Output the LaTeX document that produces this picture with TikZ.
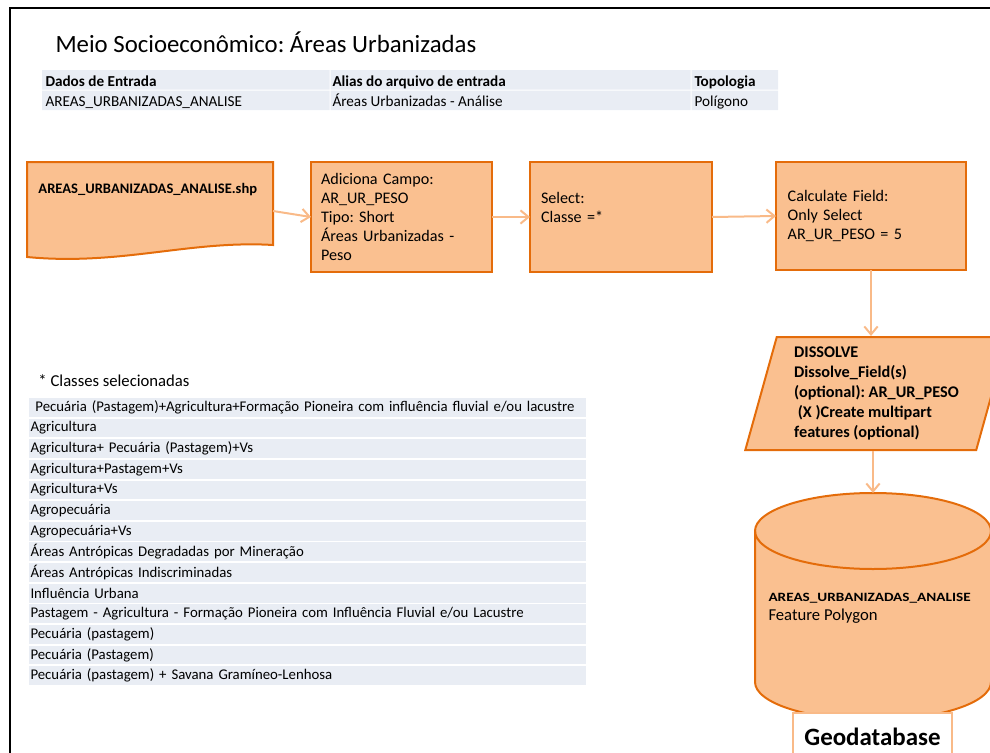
\documentclass[tikz,border=0pt]{standalone}
\usepackage{fontspec}
\usepackage{graphicx}
\setmainfont{Carlito}
\frenchspacing
\usetikzlibrary{arrows.meta,shapes.geometric,calc}

\definecolor{procfill}{HTML}{FAC090}
\definecolor{procline}{HTML}{E46C0A}
\definecolor{flowline}{HTML}{F9BA88}
\definecolor{tablefill}{HTML}{E9EDF4}

\tikzset{every picture/.style={line width=0.75pt}}
\tikzset{
  procbox/.style={draw=procline, fill=procfill, line width=1.5pt, align=left, inner xsep=7.5pt, outer sep=0pt, font=\fontsize{12.1}{14.4}\selectfont},
  flow/.style={draw=flowline, line width=1.5pt, -{Straight Barb[length=6pt,width=10pt]}},
  tabcell/.style={fill=tablefill},
  tabtext/.style={anchor=base west, inner sep=0pt, font=\fontsize{11.4}{13}\selectfont},
  listrow/.style={fill=tablefill, anchor=west, minimum height=14.1pt, minimum width=417.75pt, text width=414.75pt, inner xsep=1.5pt, inner ysep=0pt, align=left, font=\fontsize{11.1}{12}\selectfont},
}

\begin{document}
\begin{tikzpicture}[x=0.75pt,y=0.75pt,yscale=-1,xscale=1]
    \useasboundingbox (0,0) rectangle (990,753);
    \clip (0,0) rectangle (990,753);

    %Shape: Frame
    \draw [line width=1.5pt] (10,770) -- (10,8) -- (1000,8) ;

    % Text Node
    \draw (55,52) node (title) [anchor=base west, inner sep=0pt, font=\fontsize{18.6}{22}\selectfont] {Meio Socioeconômico: Áreas Urbanizadas};

    %Shape: Table cells
    \fill [tabcell] (42,70) rectangle (329.5,89.5) (330.5,70) rectangle (690.5,89.5) (691.5,70) rectangle (778,89.5) ;
    \fill [tabcell] (42,90.5) rectangle (329.5,110) (330.5,90.5) rectangle (690.5,110) (691.5,90.5) rectangle (778,110) ;
    % Text Node
    \draw (45,86) node (hdin) [tabtext] {\bfseries Dados de Entrada};
    \draw (332,86) node (hdalias) [tabtext] {\bfseries Alias do arquivo de entrada};
    \draw (694,86) node (hdtopo) [tabtext] {\bfseries Topologia};
    \draw (45,106) node (vin) [tabtext] {AREAS\_URBANIZADAS\_ANALISE};
    \draw (332,106) node (valias) [tabtext] {Áreas Urbanizadas - Análise};
    \draw (694,106) node (vtopo) [tabtext] {Polígono};

    %Shape: Document
    \draw [draw=procline, fill=procfill, line width=1.5pt] (27,162) -- (273,162) -- (273,245) .. controls (190,240) and (120,266) .. (27,257) -- cycle ;
    \node (doc) at (150,211) [minimum width=184.5pt, minimum height=72pt, outer sep=0pt] {};
    % Text Node
    \draw (38,193) node (docname) [anchor=base west, inner sep=0pt, font=\bfseries\fontsize{10.9}{12}\selectfont] {AREAS\_URBANIZADAS\_ANALISE.shp};

    %Shape: Rectangle
    \node (add) at (401.5,217) [procbox, minimum width=135.75pt, minimum height=82.5pt, text width=120.75pt] {Adiciona Campo:\\AR\_UR\_PESO\\Tipo: Short\\Áreas Urbanizadas -\\Peso};
    %Shape: Rectangle
    \node (sel) at (621,217) [procbox, minimum width=136.5pt, minimum height=82.5pt, text width=120pt, inner xsep=8.25pt] {Select:\\Classe =*\\~};
    %Shape: Rectangle
    \node (calc) at (871,216) [procbox, minimum width=142.5pt, minimum height=81pt, text width=125pt, inner xsep=8.75pt] {Calculate Field:\\Only Select\\AR\_UR\_PESO = 5};

    %Shape: Parallelogram
    \node (dis) at (876.5,393.5) [trapezium, trapezium left angle=75, trapezium right angle=105, trapezium stretches=true, minimum width=197.25pt, minimum height=84.75pt, draw=procline, fill=procfill, line width=1.5pt, align=left, font=\bfseries\fontsize{12.2}{15}\selectfont] {DISSOLVE\\Dissolve\_Field(s)\\(optional): AR\_UR\_PESO\\\ (X )Create multipart\\features (optional)};

    %Shape: Can
    \draw [draw=procline, fill=procfill, line width=1.5pt] (755,531) -- (755,682) arc[start angle=180, end angle=0, x radius=118, y radius=38] -- (991,531) arc[start angle=0, end angle=-180, x radius=118, y radius=38] -- cycle ;
    \draw [draw=procline, line width=1.5pt] (755,531) arc[start angle=180, end angle=0, x radius=118, y radius=38] ;
    \node (db) at (873,606.5) [minimum width=177pt, minimum height=170.25pt, outer sep=0pt] {};
    % Text Node
    \draw (768,601.5) node (dbname) [anchor=base west, inner sep=0pt, font=\bfseries\fontsize{9.5}{11}\selectfont] {\scalebox{1.2}[1]{AREAS\_URBANIZADAS\_ANALISE}};
    \draw (768,620.5) node (dbtype) [anchor=base west, inner sep=0pt, font=\fontsize{12.5}{14}\selectfont] {Feature Polygon};

    %Shape: Rectangle
    \node (gdb) at (872.5,736.5) [draw=flowline, fill=white, line width=1.1pt, minimum width=119.25pt, minimum height=35.25pt, font=\bfseries\fontsize{18.7}{21}\selectfont] {Geodatabase};

    % Connectors
    \draw [flow] (doc.east) -- (add.west) ;
    \draw [flow] (add.east) -- (sel.west) ;
    \draw [flow] (sel.east) -- (calc.west) ;
    \draw [flow] (calc.south) -- (calc.south |- dis.north) ;
    \draw [flow] (db.north |- dis.south) -- (db.north) ;

    % Text Node
    \draw (38,386) node (clstitle) [anchor=base west, inner sep=0pt, font=\fontsize{12.5}{14}\selectfont] {* Classes selecionadas};

    %Shape: List rows
    \node (cls1) at (28,407.3) [listrow] {\ Pecuária (Pastagem)+Agricultura+Formação Pioneira com influência fluvial e/ou lacustre};
    \node (cls2) at (28,427.9) [listrow] {Agricultura};
    \node (cls3) at (28,448.6) [listrow] {Agricultura+ Pecuária (Pastagem)+Vs};
    \node (cls4) at (28,469.2) [listrow] {Agricultura+Pastagem+Vs};
    \node (cls5) at (28,489.9) [listrow] {Agricultura+Vs};
    \node (cls6) at (28,510.5) [listrow] {Agropecuária};
    \node (cls7) at (28,531.2) [listrow] {Agropecuária+Vs};
    \node (cls8) at (28,551.8) [listrow] {Áreas Antrópicas Degradadas por Mineração};
    \node (cls9) at (28,572.5) [listrow] {Áreas Antrópicas Indiscriminadas};
    \node (cls10) at (28,593.1) [listrow] {Influência Urbana};
    \node (cls11) at (28,613.7) [listrow] {Pastagem - Agricultura - Formação Pioneira com Influência Fluvial e/ou Lacustre};
    \node (cls12) at (28,634.4) [listrow] {Pecuária (pastagem)};
    \node (cls13) at (28,655.0) [listrow] {Pecuária (Pastagem)};
    \node (cls14) at (28,675.7) [listrow] {Pecuária (pastagem) + Savana Gramíneo-Lenhosa};
\end{tikzpicture}
\end{document}
